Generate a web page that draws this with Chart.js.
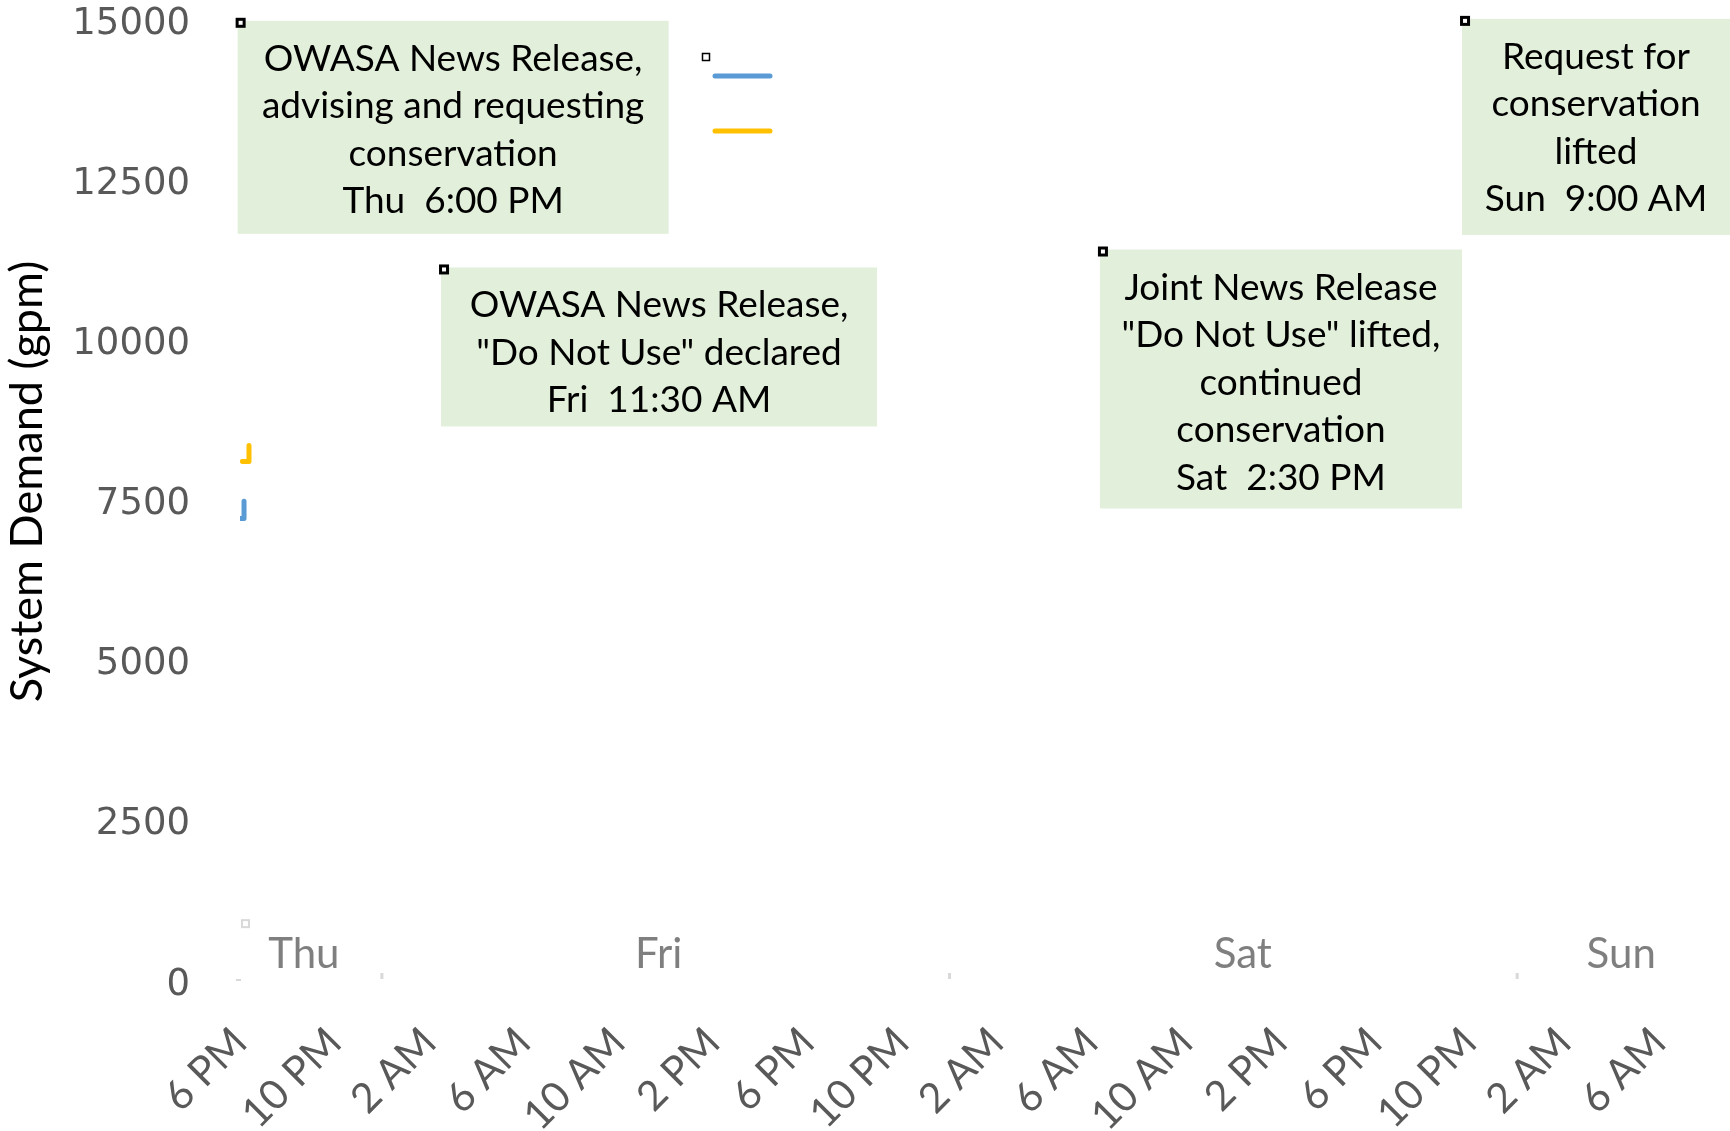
<!DOCTYPE html>
<html lang="en">
<head>
<meta charset="UTF-8">
<title>System Demand</title>
<style>
    html, body { margin: 0; padding: 0; background: #fff; }
    #wrap { width: 1730px; height: 1131px; position: relative; }
</style>
<script src="https://cdn.jsdelivr.net/npm/chart.js"></script>
</head>
<body>
<div id="wrap"><canvas id="demandChart"></canvas></div>
<script>
// hours after Thu 6 PM
const blueHours = [0, 0.17, 0.17];
const blueGpm = [7280, 7280, 7550];
const yellowHours = [0.1, 0.38, 0.38];
const yellowGpm = [8170, 8170, 8420];

const dayNames = ['Thu', 'Fri', 'Sat', 'Sun'];
const dayHours = [2.7, 17.7, 42.4, 58.4];
const midnights = [6, 30, 54];

const noteTexts = [
    ['OWASA News Release,', 'advising and requesting', 'conservation', 'Thu  6:00 PM'],
    ['OWASA News Release,', '"Do Not Use" declared', 'Fri  11:30 AM'],
    ['Joint News Release', '"Do Not Use" lifted,', 'continued', 'conservation', 'Sat  2:30 PM'],
    ['Request for', 'conservation', 'lifted', 'Sun  9:00 AM']
];
const noteHours = [-0.1, 8.5, 36.36, 51.67];
const noteGpm = [15050, 11200, 11480, 15080];
const noteSizes = [[431, 213], [436, 159], [362, 259], [268, 216]];

function hourLabel(v) {
    const h = (18 + v) % 24;
    const h12 = h % 12 === 0 ? 12 : h % 12;
    return h12 + (h < 12 ? ' AM' : ' PM');
}

function toPoints(xs, ys) {
    return xs.map((x, i) => ({ x: x, y: ys[i] }));
}

const extrasPlugin = {
    id: 'extras',
    afterDatasetsDraw(chart) {
        const ctx = chart.ctx;
        const xs = chart.scales.x;
        const ys = chart.scales.y;
        ctx.save();

        // midnight marks
        ctx.fillStyle = '#d9d9d9';
        midnights.forEach(h => {
            const px = xs.getPixelForValue(h);
            ctx.fillRect(px - 1.5, ys.bottom - 12, 3, 6);
        });
        ctx.fillRect(xs.getPixelForValue(0) - 4, ys.bottom - 6, 5, 2);
        ctx.strokeStyle = '#d9d9d9';
        ctx.lineWidth = 2;
        ctx.strokeRect(xs.getPixelForValue(0) + 2, ys.getPixelForValue(950) - 4, 7, 7);

        // day names
        ctx.fillStyle = '#7f7f7f';
        ctx.font = '42px Lato';
        ctx.textAlign = 'center';
        ctx.textBaseline = 'middle';
        dayNames.forEach((d, i) => {
            ctx.fillText(d, xs.getPixelForValue(dayHours[i]), ys.getPixelForValue(470));
        });

        // event notes
        noteTexts.forEach((lines, i) => {
            const left = xs.getPixelForValue(noteHours[i]);
            const top = ys.getPixelForValue(noteGpm[i]);
            const w = noteSizes[i][0], h = noteSizes[i][1];
            ctx.fillStyle = '#e2efda';
            ctx.fillRect(left, top, w, h);
            ctx.fillStyle = '#000';
            ctx.fillRect(left - 2, top - 3, 10, 10);
            ctx.fillStyle = '#fff';
            ctx.fillRect(left + 1, top, 4, 4);
            ctx.fillStyle = '#000';
            ctx.font = '37px Lato';
            ctx.textAlign = 'center';
            ctx.textBaseline = 'alphabetic';
            lines.forEach((t, j) => {
                ctx.fillText(t, left + w / 2, top + 50 + j * 47.5);
            });
        });

        // legend swatches (no text)
        ctx.strokeStyle = '#000';
        ctx.lineWidth = 1.5;
        ctx.strokeRect(702.5, 53.5, 7, 7);
        ctx.lineCap = 'round';
        ctx.lineWidth = 5;
        ctx.strokeStyle = '#5b9bd5';
        ctx.beginPath(); ctx.moveTo(715, 76); ctx.lineTo(770, 76); ctx.stroke();
        ctx.strokeStyle = '#ffc000';
        ctx.beginPath(); ctx.moveTo(715, 131); ctx.lineTo(770, 131); ctx.stroke();
        ctx.restore();
    }
};

new Chart(document.getElementById('demandChart'), {
    type: 'line',
    data: {
        datasets: [{
            label: 'Demand A',
            data: toPoints(blueHours, blueGpm),
            borderColor: '#5b9bd5',
            borderWidth: 5,
            borderCapStyle: 'round',
            borderJoinStyle: 'round',
            pointRadius: 0
        }, {
            label: 'Demand B',
            data: toPoints(yellowHours, yellowGpm),
            borderColor: '#ffc000',
            borderWidth: 5,
            borderCapStyle: 'round',
            borderJoinStyle: 'round',
            pointRadius: 0
        }]
    },
    options: {
        responsive: true,
        maintainAspectRatio: false,
        animation: false,
        layout: { padding: { top: 24, right: 0, left: 0, bottom: 0 } },
        plugins: { legend: { display: false }, tooltip: { enabled: false } },
        scales: {
            x: {
                type: 'linear',
                min: 0,
                max: 63,
                afterFit: s => { s.height = 146; },
                grid: { display: false, drawTicks: false },
                border: { display: false },
                ticks: {
                    stepSize: 4,
                    includeBounds: false,
                    autoSkip: false,
                    minRotation: 45,
                    maxRotation: 45,
                    padding: 33,
                    color: '#595959',
                    font: { family: 'Lato', size: 41 },
                    callback: v => hourLabel(v)
                }
            },
            y: {
                min: 0,
                max: 15000,
                afterFit: s => { s.width = 240; s.paddingTop = 0; s.paddingBottom = 0; },
                grid: { display: false, drawTicks: false },
                border: { display: false },
                title: {
                    display: true,
                    text: '    System Demand (gpm)',
                    color: '#000',
                    font: { family: 'Lato', size: 45 },
                    padding: 0
                },
                ticks: {
                    stepSize: 2500,
                    padding: 50,
                    color: '#595959',
                    font: { family: 'DejaVu Sans', size: 37 },
                    callback: v => String(v)
                }
            }
        }
    },
    plugins: [extrasPlugin]
});
</script>
</body>
</html>
